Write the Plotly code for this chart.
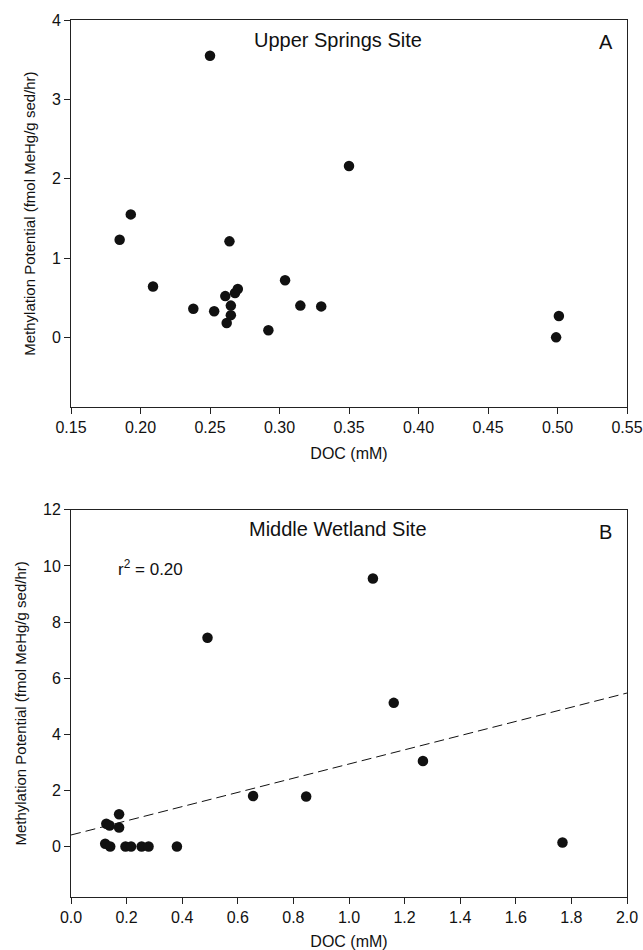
import plotly.graph_objects as go

# Panel A: Upper Springs Site
doc_a = [0.250, 0.350, 0.193, 0.185, 0.264, 0.209, 0.238, 0.253, 0.261, 0.268,
         0.270, 0.265, 0.265, 0.262, 0.292, 0.304, 0.315, 0.330, 0.501, 0.499]
mp_a = [3.55, 2.16, 1.55, 1.23, 1.21, 0.64, 0.36, 0.33, 0.52, 0.56,
        0.61, 0.40, 0.28, 0.18, 0.09, 0.72, 0.40, 0.39, 0.27, 0.00]

# Panel B: Middle Wetland Site
doc_b = [0.491, 1.086, 1.161, 1.266, 1.768, 0.127, 0.139, 0.173, 0.173, 0.123,
         0.141, 0.196, 0.216, 0.254, 0.279, 0.381, 0.655, 0.846]
mp_b = [7.44, 9.55, 5.12, 3.05, 0.14, 0.81, 0.75, 1.15, 0.68, 0.10,
        0.00, 0.00, 0.00, 0.00, 0.00, 0.00, 1.80, 1.78]

# Regression line (panel B)
fit_x = [0.0, 2.0]
fit_intercept = 0.41
fit_slope = 2.53
fit_y = [fit_intercept + fit_slope * v for v in fit_x]

FONT = "Liberation Sans, Arial, sans-serif"
INK = "#111111"

fig = go.Figure()
fig.add_trace(go.Scatter(x=doc_a, y=mp_a, mode="markers", xaxis="x", yaxis="y",
                         marker=dict(size=10.5, color=INK), showlegend=False))
fig.add_trace(go.Scatter(x=fit_x, y=fit_y, mode="lines", xaxis="x2", yaxis="y2",
                         line=dict(color=INK, width=1, dash="10px,5px"), showlegend=False))
fig.add_trace(go.Scatter(x=doc_b, y=mp_b, mode="markers", xaxis="x2", yaxis="y2",
                         marker=dict(size=10.5, color=INK), showlegend=False))

W, H = 643, 950
ML, MR, MT, MB = 70.7, W - 626.7, 20.0, H - 897.3
PH = H - MT - MB
ya = [(H - MB - 407.3) / PH, 1.0]
yb = [0.0, (897.3 - 510.0) / PH]

axis_common = dict(showline=True, linecolor="#222222", linewidth=1, mirror=True,
                   ticks="outside", ticklen=6, tickcolor="#222222", tickwidth=1,
                   showgrid=False, zeroline=False, automargin=False,
                   tickfont=dict(family=FONT, size=16, color=INK))

fig.update_layout(
    width=W, height=H,
    margin=dict(l=ML, r=MR, t=MT, b=MB, pad=0),
    paper_bgcolor="white", plot_bgcolor="white",
    font=dict(family=FONT, color=INK),
    xaxis=dict(domain=[0, 1], anchor="y", range=[0.15, 0.55], dtick=0.05, tick0=0.15,
               tickformat=".2f",
               title=dict(text="DOC (mM)", font=dict(family=FONT, size=16, color=INK), standoff=12),
               **axis_common),
    yaxis=dict(domain=ya, anchor="x", range=[-0.88, 4], dtick=1, tick0=0,
               title=dict(text="Methylation Potential (fmol MeHg/g sed/hr)",
                          font=dict(family=FONT, size=15, color=INK), standoff=12),
               **axis_common),
    xaxis2=dict(domain=[0, 1], anchor="y2", range=[0, 2.0], dtick=0.2, tick0=0,
                tickformat=".1f",
                title=dict(text="DOC (mM)", font=dict(family=FONT, size=16, color=INK), standoff=10),
                **axis_common),
    yaxis2=dict(domain=yb, anchor="x2", range=[-1.8, 12], dtick=2, tick0=0,
                title=dict(text="Methylation Potential (fmol MeHg/g sed/hr)",
                           font=dict(family=FONT, size=15, color=INK), standoff=12),
                **axis_common),
)

ann_font = dict(family=FONT, size=20, color=INK)
common = dict(showarrow=False, xanchor="center", yanchor="middle")
fig.add_annotation(text="Upper Springs Site", xref="x domain", yref="y domain",
                   x=0.481, y=0.948, font=ann_font, **common)
fig.add_annotation(text="A", xref="x domain", yref="y domain",
                   x=0.962, y=0.944, font=ann_font, **common)
fig.add_annotation(text="Middle Wetland Site", xref="x2 domain", yref="y2 domain",
                   x=0.481, y=0.950, font=ann_font, **common)
fig.add_annotation(text="B", xref="x2 domain", yref="y2 domain",
                   x=0.962, y=0.944, font=ann_font, **common)
fig.add_annotation(text="r<sup>2</sup> = 0.20", xref="x2 domain", yref="y2 domain",
                   x=0.081, y=0.850, xanchor="left", yanchor="middle", showarrow=False,
                   font=dict(family=FONT, size=17, color=INK))

fig.write_html("out.html")
